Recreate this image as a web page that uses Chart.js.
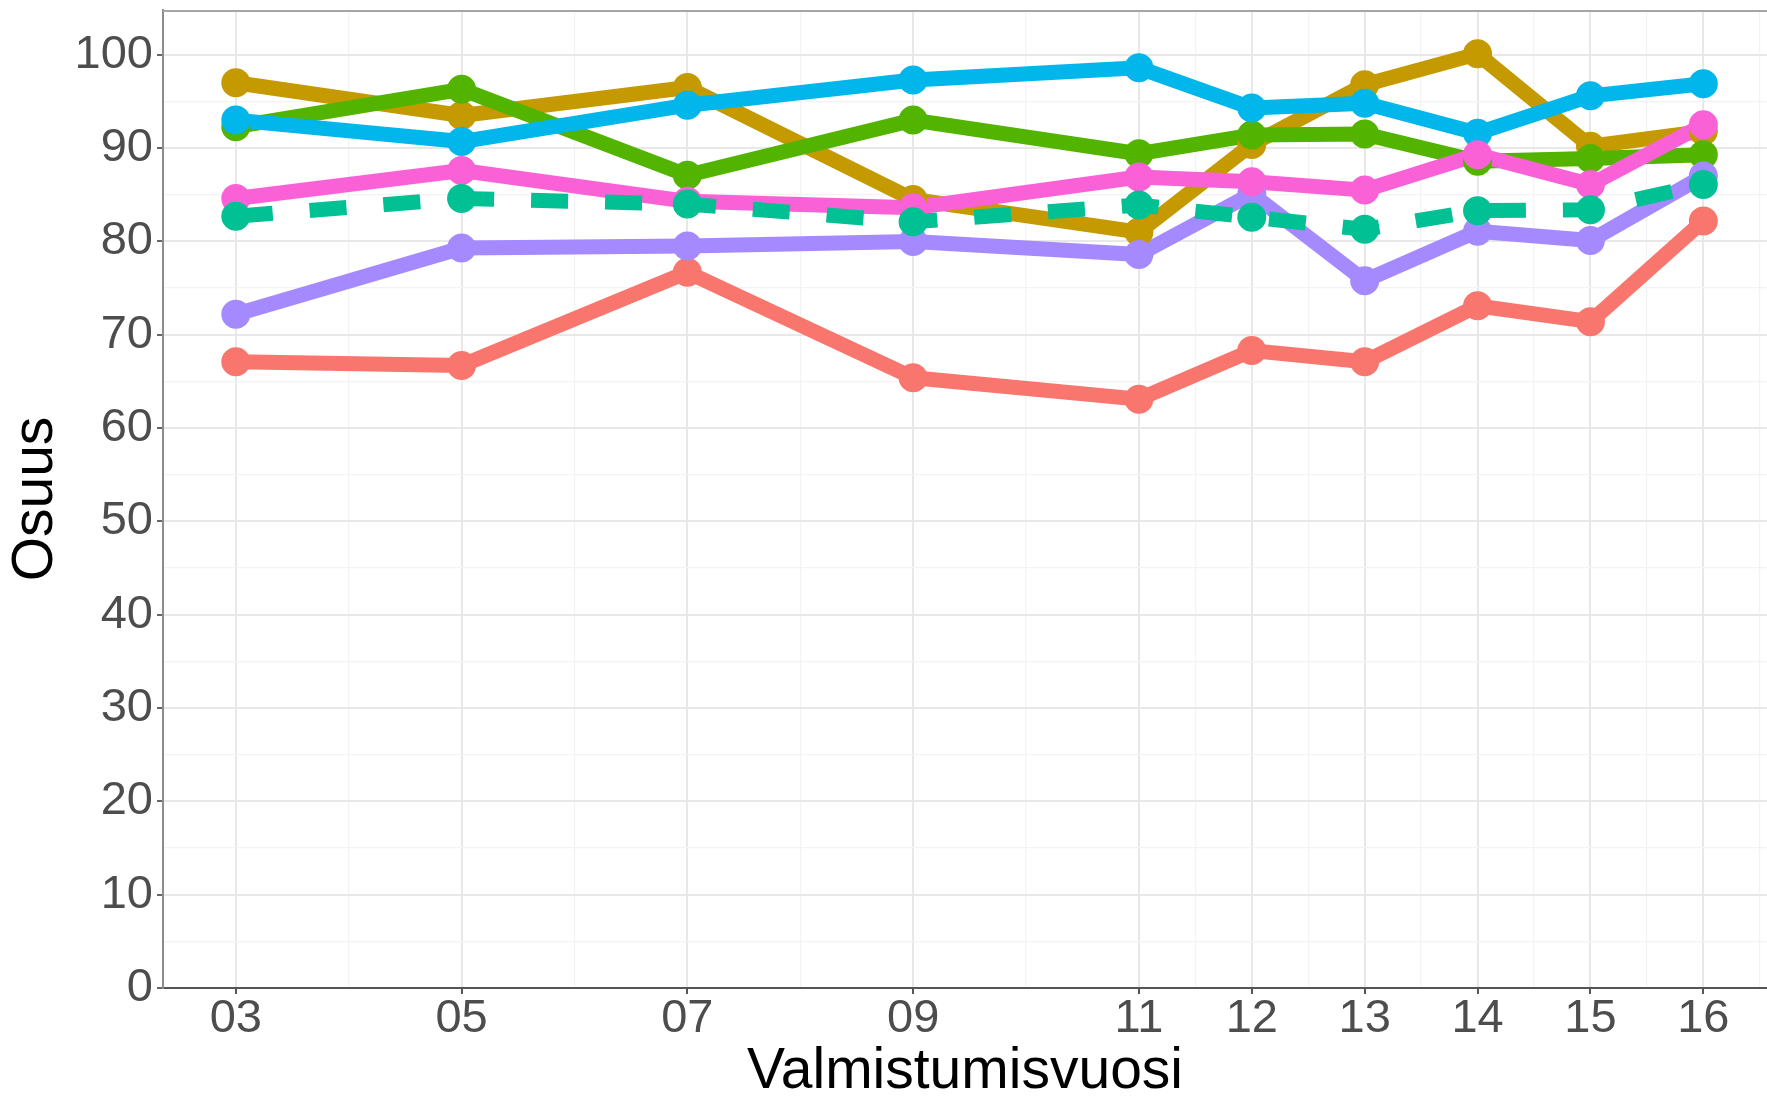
<!DOCTYPE html>
<html>
<head>
<meta charset="utf-8">
<script src="https://cdn.jsdelivr.net/npm/chart.js@4.4.1/dist/chart.umd.min.js"></script>
<style>
  html, body { margin: 0; padding: 0; background: #ffffff; overflow: hidden; }
  #wrap { width: 1767px; height: 1098px; }
</style>
</head>
<body>
<div id="wrap"><canvas id="chart" width="1767" height="1098"></canvas></div>
<script>
// Graduation years (two-digit labels) and share values per group
const years      = [3, 5, 7, 9, 11, 12, 13, 14, 15, 16];
const yearLabels = ['03', '05', '07', '09', '11', '12', '13', '14', '15', '16'];
const yTickValues = [0, 10, 20, 30, 40, 50, 60, 70, 80, 90, 100];

const seriesRed    = [67.1, 66.7, 76.7, 65.4, 63.1, 68.3, 67.1, 73.1, 71.4, 82.2];
const seriesGold   = [97.0, 93.5, 96.5, 84.5, 81.0, 90.4, 96.8, 100.1, 90.2, 91.8];
const seriesGreen  = [92.3, 96.3, 87.1, 93.0, 89.4, 91.4, 91.5, 88.6, 88.9, 89.3];
const seriesBlue   = [93.0, 90.7, 94.6, 97.3, 98.6, 94.3, 94.8, 91.6, 95.6, 96.9];
const seriesPurple = [72.2, 79.3, 79.5, 80.0, 78.6, 85.1, 75.8, 81.1, 80.1, 87.0];
const seriesPink   = [84.6, 87.6, 84.3, 83.6, 86.9, 86.4, 85.5, 89.3, 86.1, 92.5];
const seriesTotal  = [82.7, 84.6, 84.0, 82.1, 83.9, 82.6, 81.3, 83.3, 83.4, 86.1];

const FONT = "'Liberation Sans', Arial, Helvetica, sans-serif";
const LINE_W = 15;
const POINT_R = 14.5;

const toXY = vals => vals.map((v, i) => ({ x: years[i], y: v }));

// minor grid positions: midpoints between the labelled breaks (plus one step beyond the last)
const xMinor = [];
for (let i = 0; i < years.length - 1; i++) xMinor.push((years[i] + years[i + 1]) / 2);
xMinor.push(years[years.length - 1] + (years[years.length - 1] - years[years.length - 2]) / 2);
const xAllTicks = years.concat(xMinor).sort((a, b) => a - b);

const yMinor = [];
for (let i = 0; i < yTickValues.length - 1; i++) yMinor.push((yTickValues[i] + yTickValues[i + 1]) / 2);
const yAllTicks = yTickValues.concat(yMinor).sort((a, b) => a - b);

const groups = [
  // [values, colour, dashed, line order, point order]
  [seriesRed,    '#F8766D', false, 16, 8],
  [seriesGold,   '#C49A00', false, 15, 7],
  [seriesGreen,  '#53B400', false, 14, 6],
  [seriesBlue,   '#00B6EB', false, 13, 5],
  [seriesPurple, '#A58AFF', false, 12, 4],
  [seriesPink,   '#FB61D7', false, 11, 3],
  [seriesTotal,  '#00C094', true,   1, 0]
];

const datasets = [];
groups.forEach(([vals, col, dashed, lineOrder, pointOrder]) => {
  datasets.push({
    data: toXY(vals),
    borderColor: col,
    backgroundColor: col,
    borderWidth: LINE_W,
    borderDash: dashed ? [37, 37] : [],
    borderCapStyle: 'butt',
    borderJoinStyle: 'round',
    tension: 0,
    pointRadius: 0,
    pointHoverRadius: 0,
    fill: false,
    order: lineOrder
  });
  datasets.push({
    data: toXY(vals),
    showLine: false,
    borderColor: col,
    backgroundColor: col,
    pointBackgroundColor: col,
    pointBorderWidth: 0,
    pointRadius: POINT_R,
    pointHoverRadius: POINT_R,
    pointStyle: 'circle',
    order: pointOrder
  });
});

// light grey frame along the top of the panel
const topFrame = {
  id: 'topFrame',
  afterDatasetsDraw(chart) {
    const { ctx, chartArea } = chart;
    ctx.save();
    ctx.strokeStyle = '#A6A6A6';
    ctx.lineWidth = 2;
    ctx.beginPath();
    ctx.moveTo(chartArea.left, chartArea.top + 1);
    ctx.lineTo(chartArea.right, chartArea.top + 1);
    ctx.stroke();
    ctx.restore();
  }
};

new Chart(document.getElementById('chart'), {
  type: 'line',
  data: { datasets },
  plugins: [topFrame],
  options: {
    responsive: false,
    animation: false,
    events: [],
    layout: { autoPadding: false, padding: { top: 10, left: 0, right: 0, bottom: 0 } },
    plugins: {
      legend: { display: false },
      tooltip: { enabled: false },
      title: { display: false }
    },
    scales: {
      x: {
        type: 'linear',
        min: 2.355,
        max: 16.564,
        afterBuildTicks: s => { s.ticks = xAllTicks.map(v => ({ value: v })); },
        afterFit: s => { s.height = 110; s.paddingLeft = 0; s.paddingRight = 0; },
        border: { display: true, color: '#555555', width: 2 },
        grid: {
          color: c => years.includes(c.tick.value) ? '#E8E8E8' : '#F3F3F3',
          lineWidth: c => years.includes(c.tick.value) ? 2 : 1.3,
          tickColor: c => years.includes(c.tick.value) ? '#555555' : 'rgba(0,0,0,0)',
          tickWidth: 2,
          tickLength: 6
        },
        ticks: {
          autoSkip: false,
          maxRotation: 0,
          minRotation: 0,
          padding: 2,
          color: '#4D4D4D',
          font: { family: FONT, size: 47, lineHeight: 1 },
          callback: v => { const i = years.indexOf(v); return i >= 0 ? yearLabels[i] : ''; }
        },
        title: {
          display: true,
          text: 'Valmistumisvuosi',
          color: '#000000',
          font: { family: FONT, size: 57, lineHeight: 0.9 },
          padding: { top: 0, bottom: 0 }
        }
      },
      y: {
        type: 'linear',
        min: 0,
        max: 104.8,
        afterBuildTicks: s => { s.ticks = yAllTicks.map(v => ({ value: v })); },
        afterFit: s => { s.width = 163; s.paddingTop = 0; s.paddingBottom = 0; },
        border: { display: true, color: '#8C8C8C', width: 2 },
        grid: {
          color: c => yTickValues.includes(c.tick.value) ? '#E8E8E8' : '#F3F3F3',
          lineWidth: c => yTickValues.includes(c.tick.value) ? 2 : 1.3,
          tickColor: c => yTickValues.includes(c.tick.value) ? '#666666' : 'rgba(0,0,0,0)',
          tickWidth: 2,
          tickLength: 6
        },
        ticks: {
          autoSkip: false,
          padding: 4,
          color: '#4D4D4D',
          font: { family: FONT, size: 47, lineHeight: 1 },
          callback: v => yTickValues.includes(v) ? String(v) : ''
        },
        title: {
          display: true,
          text: 'Osuus',
          color: '#000000',
          font: { family: FONT, size: 57, lineHeight: 1.2 },
          padding: { top: 2, bottom: 0 }
        }
      }
    }
  }
});
</script>
</body>
</html>
